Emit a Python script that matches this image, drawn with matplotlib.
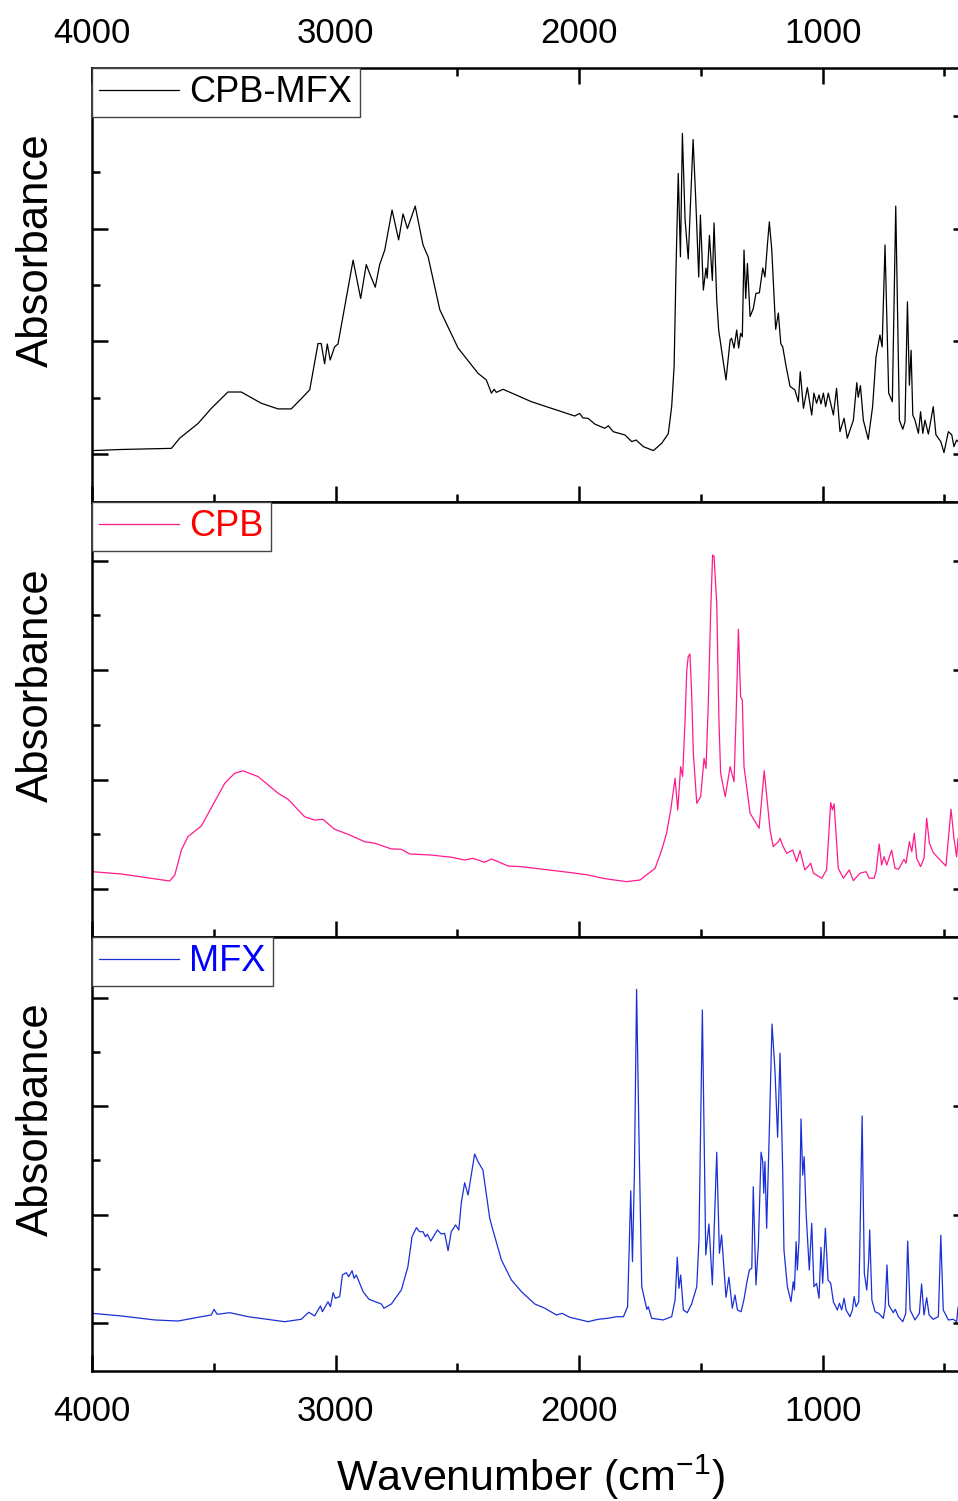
import matplotlib
matplotlib.use('Agg')
import matplotlib.pyplot as plt
from matplotlib.ticker import MultipleLocator

plt.rcParams['font.family'] = ['Liberation Sans', 'DejaVu Sans']
plt.rcParams['mathtext.default'] = 'regular'

# FTIR spectra (wavenumber in cm-1, absorbance in a.u.)
cpb_mfx_wn = [4000, 3880, 3674, 3640, 3565, 3510, 3442, 3387, 3305, 3236, 3182, 3141, 3106,
              3072, 3059, 3045, 3034, 3022, 3004, 2990, 2962, 2928, 2897, 2874, 2856, 2837,
              2819, 2798, 2768, 2741, 2723, 2705, 2673, 2641, 2620, 2572, 2497, 2415, 2381,
              2360, 2349, 2340, 2312, 2196, 2018, 1998, 1984, 1963, 1936, 1895, 1880, 1860,
              1812, 1784, 1766, 1736, 1695, 1661, 1634, 1620, 1610, 1602, 1593, 1584, 1576,
              1565, 1552, 1532, 1521, 1509, 1502, 1490, 1479, 1474, 1465, 1453, 1446, 1435,
              1427, 1415, 1397, 1380, 1374, 1364, 1353, 1345, 1337, 1330, 1323, 1316, 1309,
              1298, 1285, 1274, 1260, 1246, 1237, 1227, 1219, 1209, 1193, 1182, 1172, 1164,
              1150, 1134, 1114, 1100, 1092, 1079, 1063, 1045, 1036, 1025, 1015, 1007, 997,
              988, 977, 956, 943, 929, 912, 899, 874, 860, 854, 845, 833, 813, 795, 781, 765,
              756, 744, 729, 714, 700, 685, 671, 662, 652, 644, 637, 630, 621, 607, 598, 589,
              580, 566, 546, 535, 515, 502, 484, 470, 461, 450, 440, 400]
cpb_mfx_abs = [0.03, 0.04, 0.05, 0.14, 0.27, 0.405, 0.55, 0.55, 0.45, 0.40, 0.40, 0.49, 0.57,
               0.98, 0.98, 0.80, 0.976, 0.834, 0.95, 0.976, 1.31, 1.72, 1.38, 1.68, 1.58, 1.48,
               1.68, 1.81, 2.165, 1.90, 2.13, 2.00, 2.20, 1.855, 1.75, 1.28, 0.94, 0.716, 0.657,
               0.54, 0.574, 0.547, 0.574, 0.464, 0.337, 0.36, 0.32, 0.316, 0.266, 0.228, 0.25,
               0.198, 0.169, 0.11, 0.124, 0.065, 0.03, 0.095, 0.18, 0.42, 0.775, 1.66, 2.49,
               1.75, 2.845, 2.08, 1.73, 2.79, 2.25, 1.57, 2.12, 1.455, 1.65, 1.56, 1.94, 1.54,
               2.05, 1.366, 1.10, 0.92, 0.657, 1.01, 1.027, 0.94, 1.10, 0.94, 1.07, 1.04, 1.81,
               1.38, 1.69, 1.22, 1.29, 1.425, 1.43, 1.65, 1.57, 1.855, 2.06, 1.81, 1.106, 1.25,
               0.98, 0.95, 0.775, 0.60, 0.568, 0.464, 0.73, 0.405, 0.59, 0.346, 0.54, 0.45,
               0.524, 0.444, 0.54, 0.42, 0.54, 0.346, 0.583, 0.198, 0.317, 0.14, 0.30, 0.633,
               0.503, 0.606, 0.30, 0.13, 0.42, 0.863, 1.056, 0.95, 1.855, 0.54, 0.464, 2.20,
               0.30, 0.22, 0.287, 1.35, 0.61, 0.92, 0.346, 0.30, 0.183, 0.375, 0.183, 0.30,
               0.177, 0.42, 0.17, 0.11, 0.012, 0.198, 0.17, 0.065, 0.124, 0.10, 0.08]

cpb_wn = [4000, 3999, 3880, 3681, 3660, 3633, 3606, 3551, 3455, 3414, 3380, 3318, 3236, 3195,
          3127, 3086, 3052, 3004, 2949, 2880, 2839, 2771, 2730, 2696, 2607, 2525, 2470, 2436,
          2388, 2360, 2333, 2292, 2237, 2100, 2032, 1963, 1914, 1884, 1805, 1750, 1688, 1661,
          1641, 1624, 1606, 1595, 1583, 1575, 1565, 1558, 1552, 1545, 1538, 1531, 1517, 1501,
          1487, 1479, 1470, 1460, 1452, 1446, 1435, 1426, 1419, 1400, 1380, 1364, 1356, 1346,
          1337, 1330, 1323, 1298, 1261, 1240, 1216, 1203, 1182, 1175, 1165, 1148, 1123, 1107,
          1093, 1073, 1049, 1038, 1004, 984, 967, 960, 953, 936, 915, 891, 874, 847, 822, 809,
          789, 781, 768, 758, 748, 737, 717, 703, 689, 666, 658, 644, 634, 624, 614, 598, 584,
          573, 562, 546, 518, 494, 473, 461, 450, 444, 400]
cpb_abs = [0.006, 0.158, 0.137, 0.073, 0.128, 0.356, 0.478, 0.576, 0.966, 1.058, 1.08, 1.027,
           0.875, 0.82, 0.66, 0.63, 0.637, 0.546, 0.50, 0.432, 0.418, 0.366, 0.363, 0.32, 0.31,
           0.29, 0.265, 0.28, 0.244, 0.274, 0.25, 0.21, 0.204, 0.167, 0.149, 0.128, 0.103,
           0.091, 0.067, 0.082, 0.189, 0.356, 0.509, 0.722, 1.012, 0.722, 1.118, 1.027, 1.545,
           2.0, 2.124, 2.148, 1.79, 1.24, 0.783, 0.844, 1.195, 1.103, 1.667, 2.52, 3.053, 3.04,
           2.61, 1.545, 1.058, 0.844, 1.118, 0.981, 1.545, 2.374, 1.758, 1.73, 1.118, 0.692,
           0.555, 1.081, 0.539, 0.387, 0.432, 0.463, 0.40, 0.326, 0.356, 0.25, 0.35, 0.174,
           0.235, 0.144, 0.098, 0.174, 0.789, 0.722, 0.777, 0.189, 0.098, 0.174, 0.076, 0.144,
           0.158, 0.098, 0.098, 0.158, 0.411, 0.219, 0.295, 0.219, 0.356, 0.189, 0.18, 0.271,
           0.235, 0.432, 0.341, 0.509, 0.281, 0.204, 0.281, 0.646, 0.418, 0.332, 0.265, 0.21,
           0.728, 0.463, 0.295, 0.463, 0.30]

mfx_wn = [4000, 3999, 3880, 3743, 3647, 3551, 3510, 3499, 3486, 3435, 3359, 3209, 3141, 3110,
          3086, 3062, 3054, 3031, 3021, 3010, 3001, 2983, 2972, 2956, 2946, 2932, 2924, 2915,
          2887, 2863, 2812, 2801, 2771, 2730, 2703, 2686, 2668, 2655, 2641, 2631, 2623, 2609,
          2582, 2566, 2552, 2538, 2525, 2507, 2494, 2484, 2470, 2456, 2429, 2415, 2395, 2367,
          2354, 2319, 2278, 2237, 2182, 2141, 2093, 2070, 2039, 1963, 1922, 1884, 1846, 1818,
          1801, 1788, 1781, 1773, 1764, 1754, 1743, 1722, 1716, 1702, 1655, 1620, 1606, 1597,
          1590, 1583, 1572, 1556, 1538, 1517, 1508, 1494, 1480, 1474, 1467, 1453, 1435, 1424,
          1415, 1397, 1385, 1371, 1360, 1350, 1335, 1323, 1312, 1301, 1291, 1285, 1274, 1264,
          1253, 1246, 1242, 1237, 1230, 1219, 1208, 1196, 1185, 1175, 1164, 1159, 1145, 1130,
          1121, 1116, 1109, 1104, 1097, 1089, 1082, 1076, 1068, 1055, 1045, 1036, 1025, 1015,
          1007, 1000, 989, 978, 967, 956, 940, 931, 922, 912, 904, 888, 878, 871, 863, 852, 847,
          838, 829, 819, 811, 807, 798, 785, 770, 751, 744, 736, 729, 710, 702, 689, 671, 659,
          651, 641, 621, 603, 594, 584, 573, 563, 546, 525, 515, 505, 484, 464, 450, 444, 400]
mfx_abs = [0.0, 0.089, 0.065, 0.028, 0.018, 0.058, 0.074, 0.126, 0.08, 0.095, 0.058, 0.012,
           0.034, 0.099, 0.065, 0.157, 0.104, 0.196, 0.15, 0.28, 0.228, 0.243, 0.443, 0.464,
           0.427, 0.482, 0.412, 0.443, 0.289, 0.219, 0.175, 0.136, 0.175, 0.304, 0.519, 0.796,
           0.879, 0.842, 0.842, 0.796, 0.818, 0.756, 0.858, 0.821, 0.827, 0.667, 0.842, 0.904,
           0.858, 1.104, 1.294, 1.181, 1.559, 1.488, 1.411, 0.966, 0.858, 0.581, 0.397, 0.289,
           0.175, 0.136, 0.074, 0.089, 0.053, 0.012, 0.034, 0.043, 0.058, 0.058, 0.15, 1.22,
           0.566, 1.381, 3.078, 1.688, 0.335, 0.126, 0.15, 0.043, 0.028, 0.058, 0.212, 0.606,
           0.32, 0.443, 0.12, 0.095, 0.175, 0.335, 0.766, 2.887, 0.627, 0.766, 0.913, 0.351,
           1.575, 0.643, 0.812, 0.237, 0.422, 0.136, 0.258, 0.12, 0.104, 0.219, 0.366, 0.489,
           0.505, 1.257, 0.351, 0.72, 1.575, 1.488, 1.197, 1.488, 0.874, 1.78, 2.758, 2.334,
           1.713, 2.488, 1.381, 0.673, 0.335, 0.196, 0.381, 0.304, 0.75, 0.489, 0.766, 1.882,
           1.365, 1.534, 1.012, 0.489, 0.92, 0.335, 0.366, 0.228, 0.698, 0.366, 0.874, 0.397,
           0.366, 0.196, 0.12, 0.182, 0.12, 0.228, 0.12, 0.058, 0.12, 0.243, 0.15, 0.196, 0.766,
           1.91, 0.458, 0.304, 0.581, 0.858, 0.212, 0.104, 0.089, 0.043, 0.136, 0.535, 0.166,
           0.095, 0.126, 0.058, 0.012, 0.089, 0.756, 0.12, 0.028, 0.089, 0.36, 0.074, 0.233,
           0.074, 0.034, 0.058, 0.809, 0.12, 0.028, 0.034, 0.012, 0.15, 0.1]

labels = ['CPB-MFX', 'CPB', 'MFX']
line_colors = ['black', '#FF1A8C', '#1A30D6']
text_colors = ['black', '#FF0000', '#0000FF']
spectra = [(cpb_mfx_wn, cpb_mfx_abs), (cpb_wn, cpb_abs), (mfx_wn, mfx_abs)]
ylims = [(-0.426, 3.425), (-0.439, 3.537), (-0.443, 3.561)]

W, H = 958, 1501
fig = plt.figure(figsize=(W / 100, H / 100), dpi=100)
panel_px = [(68, 502), (502, 937), (937, 1371)]  # top / bottom of each panel in pixels
axes_w = 3600 * 0.24356  # 4000 -> 400 cm-1, right spine falls just outside the picture

for i, ((top, bot), (wn, ab)) in enumerate(zip(panel_px, spectra)):
    ax = fig.add_axes([92 / W, (H - bot) / H, axes_w / W, (bot - top) / H])
    ax.plot(wn, ab, color=line_colors[i], lw=0.9, label=labels[i])
    ax.set_xlim(4000, 400)
    ax.set_ylim(*ylims[i])
    ax.xaxis.set_major_locator(MultipleLocator(1000))
    ax.xaxis.set_minor_locator(MultipleLocator(500))
    ax.yaxis.set_major_locator(MultipleLocator(1))
    ax.yaxis.set_minor_locator(MultipleLocator(0.5))
    ax.tick_params(which='both', direction='in', width=1.8, labelsize=25, pad=17,
                   left=True, right=True, labelleft=False)
    ax.tick_params(which='major', length=11.5)
    ax.tick_params(which='minor', length=5.8)
    ax.tick_params(axis='x', which='both', top=(i == 0), labeltop=(i == 0),
                   labelbottom=(i == 2))
    if i == 0:
        ax.tick_params(axis='x', pad=13)
    for sp in ax.spines.values():
        sp.set_linewidth(1.8)
    ax.set_ylabel('Absorbance', fontsize=31.5)
    ax.yaxis.set_label_coords(-0.040, 0.58)
    if i == 2:
        ax.set_xlabel('Wavenumber (cm$^{-1}$)', fontsize=31, labelpad=18)

    leg = ax.legend(loc='upper left', borderaxespad=0, fancybox=False, framealpha=1,
                    edgecolor='#444444', fontsize=26, handlelength=2.2,
                    handletextpad=0.3, borderpad=0.2)
    leg.get_frame().set_linewidth(1.0)
    leg.get_texts()[0].set_color(text_colors[i])

fig.savefig('out.png', dpi=100)
